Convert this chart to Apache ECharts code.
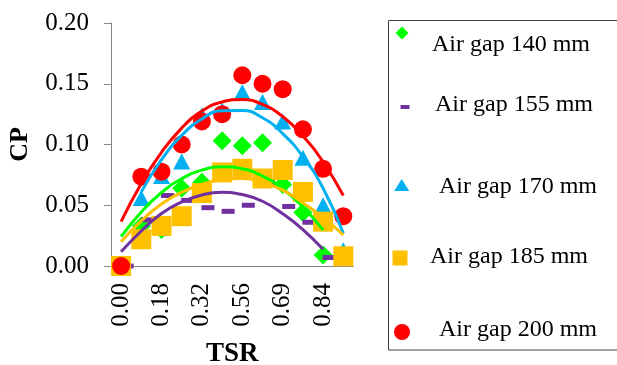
<!DOCTYPE html>
<html><head><meta charset="utf-8">
<script src="https://cdn.jsdelivr.net/npm/echarts@6/dist/echarts.min.js"></script>
<style>html,body{margin:0;padding:0;background:#fff}#c{width:617px;height:365px}</style>
</head><body><div id="c"></div>
<script>
const categories = ['0.00','0.09','0.18','0.25','0.32','0.44','0.56','0.62','0.69','0.77','0.84','0.92'];
const seriesNames = ['Air gap 140 mm','Air gap 155 mm','Air gap 170 mm','Air gap 185 mm','Air gap 200 mm'];
// measured points
const gap140 = [0.000,0.033,0.030,0.064,0.069,0.103,0.099,0.1015,0.067,0.044,0.009];
const gap155 = [0.000,0.038,0.058,0.054,0.048,0.045,0.050,0.069,0.049,0.036,0.007];
const gap170 = [null,0.056,0.074,0.086,0.124,0.128,0.143,0.135,0.119,0.089,0.050,0.013];
const gap185 = [0.000,0.022,0.033,0.041,0.060,0.077,0.080,0.072,0.079,0.061,0.0365,0.008];
const gap200 = [0.000,0.0735,0.0776,0.100,0.119,0.125,0.157,0.150,0.1455,0.1125,0.080,0.041];
// polynomial trendlines at each category
const trend140 = [0.0241,0.0445,0.0605,0.0718,0.0789,0.0817,0.0800,0.0740,0.0636,0.0485,0.0296];
const trend155 = [0.0118,0.0288,0.0432,0.0527,0.0585,0.0606,0.0588,0.0533,0.0430,0.0300,0.0137];
const trend170 = [null,0.061,0.0875,0.1075,0.121,0.1278,0.128,0.122,0.109,0.090,0.064,0.027];
const trend185 = [0.0200,0.0372,0.0510,0.0607,0.0673,0.0710,0.0720,0.0690,0.0625,0.0520,0.0400,0.0255];
const trend200 = [0.0365,0.068,0.0936,0.1135,0.1275,0.135,0.137,0.133,0.123,0.107,0.0856,0.058];
const yMin = 0, yMax = 0.20, yStep = 0.05;

const FONT = 'Liberation Serif';
const colors = ['#00FF00','#7030A0','#00B0F0','#FFC000','#FF0000'];
const values = [gap140, gap155, gap170, gap185, gap200];
const trends = [trend140, trend155, trend170, trend185, trend200];
const symbols = ['diamond','rect','triangle','rect','circle'];
const symbolSizes = [19,[13,5],[17,16],20,18];
const symbolOffsets = [[0,0],[6,0],[0,0],[0,0],[0,0]];

const series = [];
values.forEach((v,i)=>{
  series.push({name:seriesNames[i], type:'scatter', data:v, symbol:symbols[i],
    symbolSize:symbolSizes[i], symbolOffset:symbolOffsets[i], itemStyle:{color:colors[i], opacity:1}, z:2, emphasis:{disabled:true}});
});
trends.forEach((v,i)=>{
  series.push({type:'line', data:v, showSymbol:false, smooth:true, connectNulls:false,
    lineStyle:{color:colors[i], width:3}, z:3, silent:true});
});

// legend: icons and texts placed separately (as in the picture)
const iconSpec = [
  {icon:'diamond', w:13, h:13, cx:402, cy:33},
  {icon:'rect', w:9, h:4, cx:405, cy:107},
  {icon:'triangle', w:15, h:12, cx:401.7, cy:185},
  {icon:'rect', w:15, h:15, cx:400, cy:258},
  {icon:'circle', w:16, h:16, cx:402, cy:332}
];
const textSpec = [ {x:432, cy:45}, {x:435, cy:105}, {x:439, cy:187}, {x:430, cy:257}, {x:439, cy:330} ];
const legends = [];
iconSpec.forEach((s,i)=>{
  legends.push({data:[{name:seriesNames[i], icon:s.icon}], left:s.cx - s.w/2, top:s.cy - s.h/2, padding:0,
    itemWidth:s.w, itemHeight:s.h, selectedMode:false, formatter:()=>'',
    textStyle:{fontSize:1, lineHeight:1}});
});
textSpec.forEach((s,i)=>{
  legends.push({data:[{name:seriesNames[i], icon:'none'}], left:s.x - 6, top:s.cy - 12, padding:0,
    itemWidth:1, itemHeight:1, selectedMode:false,
    textStyle:{fontFamily:FONT, fontSize:24, lineHeight:24, color:'#000'}});
});

const chart = echarts.init(document.getElementById('c'), null, {renderer:'canvas'});
chart.setOption({
  animation:false,
  backgroundColor:'#fff',
  grid:{left:111, right:263.6, top:23, bottom:99, containLabel:false, outerBoundsMode:'none'},
  legend: legends,
  graphic:[{type:'rect', shape:{x:388.5, y:20.5, width:240, height:329.5}, style:{fill:'none', stroke:'#404040', lineWidth:1}, z:-1}],
  xAxis:{type:'category', data:categories, boundaryGap:true,
     axisLine:{lineStyle:{color:'#868686', width:1}}, axisTick:{show:false},
     axisLabel:{interval:1, rotate:90, fontFamily:FONT, fontSize:25, color:'#000', margin:17},
     name:'TSR', nameLocation:'middle', nameGap:75, nameMoveOverlap:false,
     nameTextStyle:{fontFamily:FONT, fontSize:27, fontWeight:'bold', color:'#000'}},
  yAxis:{type:'value', min:yMin, max:yMax, interval:yStep,
    axisLine:{show:true, lineStyle:{color:'#868686', width:1}},
    axisTick:{show:true, length:7, lineStyle:{color:'#868686'}},
    splitLine:{show:false},
    axisLabel:{formatter:v=>v.toFixed(2), fontFamily:FONT, fontSize:25, color:'#000', margin:22},
    name:'CP', nameLocation:'middle', nameGap:78, nameRotate:90, nameMoveOverlap:false,
    nameTextStyle:{fontFamily:FONT, fontSize:26, fontWeight:'bold', color:'#000'}},
  series: series
});
</script></body></html>
